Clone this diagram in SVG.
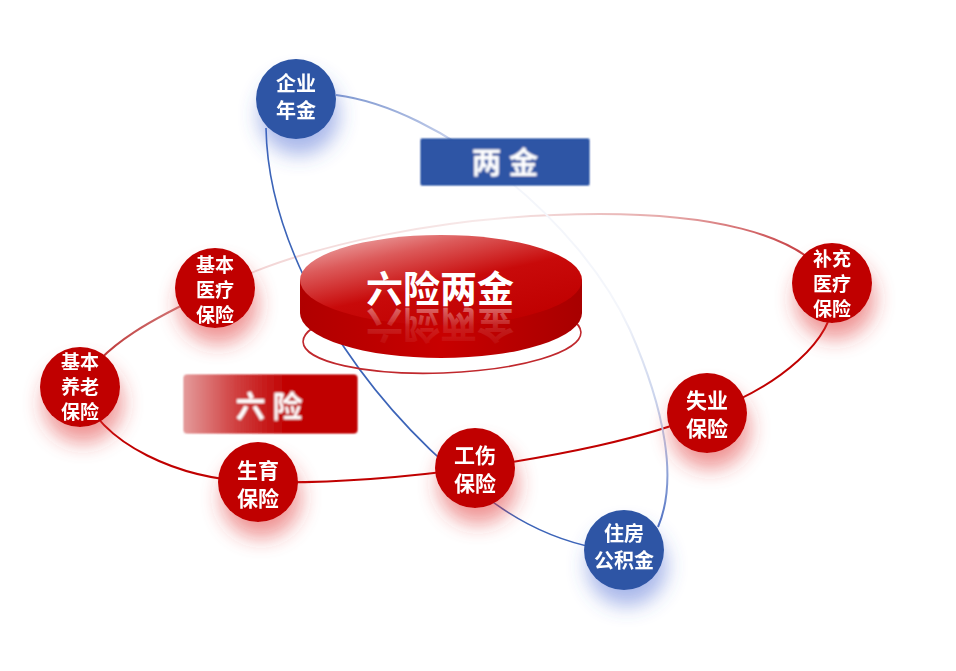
<svg xmlns="http://www.w3.org/2000/svg" width="956" height="671" viewBox="0 0 956 671">
<defs>
<style>
.nt{font-family:"Noto Sans CJK SC","Noto Sans",sans-serif;font-weight:700;fill:#fff;text-anchor:middle;}
.n3{font-size:19px;}
.n2{font-size:21px;}
.nb{font-size:20px;}
.rc{fill:#c00000;}
.bc{fill:#2e55a5;}
</style>
<filter id="sr" x="-60%" y="-60%" width="220%" height="230%">
<feGaussianBlur in="SourceAlpha" stdDeviation="10"/>
<feOffset dx="3" dy="16" result="b"/>
<feFlood flood-color="#e03030" flood-opacity="0.5"/>
<feComposite in2="b" operator="in"/>
<feMerge><feMergeNode/><feMergeNode in="SourceGraphic"/></feMerge>
</filter>
<filter id="sb" x="-60%" y="-60%" width="220%" height="230%">
<feGaussianBlur in="SourceAlpha" stdDeviation="10"/>
<feOffset dx="3" dy="16" result="b"/>
<feFlood flood-color="#4060d0" flood-opacity="0.45"/>
<feComposite in2="b" operator="in"/>
<feMerge><feMergeNode/><feMergeNode in="SourceGraphic"/></feMerge>
</filter>
<filter id="sg" x="-20%" y="-40%" width="140%" height="200%">
<feGaussianBlur in="SourceAlpha" stdDeviation="4"/>
<feOffset dx="2" dy="5" result="b"/>
<feFlood flood-color="#000" flood-opacity="0.2"/>
<feComposite in2="b" operator="in"/>
<feGaussianBlur in="SourceGraphic" stdDeviation="0.8" result="s"/>
<feMerge><feMergeNode/><feMergeNode in="s"/></feMerge>
</filter>
<linearGradient id="gTop" gradientUnits="userSpaceOnUse" x1="214" y1="0" x2="832" y2="0">
<stop offset="0" stop-color="#f2d2d2"/>
<stop offset="0.45" stop-color="#f7e9e9"/>
<stop offset="0.75" stop-color="#e4a4a4"/>
<stop offset="1" stop-color="#c0282d"/>
</linearGradient>
<linearGradient id="gLeft" gradientUnits="userSpaceOnUse" x1="214" y1="290" x2="80" y2="387">
<stop offset="0" stop-color="#d89090"/>
<stop offset="1" stop-color="#b82020"/>
</linearGradient>
<linearGradient id="gBR" gradientUnits="userSpaceOnUse" x1="0" y1="92" x2="0" y2="530">
<stop offset="0" stop-color="#7f98d0"/>
<stop offset="0.1" stop-color="#c2cdea"/>
<stop offset="0.2" stop-color="#f4f6fb"/>
<stop offset="0.5" stop-color="#f4f6fb"/>
<stop offset="0.8" stop-color="#b4c1e4"/>
<stop offset="1" stop-color="#4a6cc0"/>
</linearGradient>
<linearGradient id="gDiscTop" x1="0" y1="0" x2="0.7" y2="1">
<stop offset="0" stop-color="#f3c2c2"/>
<stop offset="0.3" stop-color="#dc5a5a"/>
<stop offset="0.6" stop-color="#c80a0a"/>
<stop offset="1" stop-color="#c00000"/>
</linearGradient>
<linearGradient id="gDiscSide" x1="0" y1="0" x2="1" y2="0">
<stop offset="0" stop-color="#b00000"/>
<stop offset="0.5" stop-color="#c80000"/>
<stop offset="1" stop-color="#a80000"/>
</linearGradient>
<linearGradient id="gSix" x1="0" y1="0" x2="1" y2="0">
<stop offset="0" stop-color="#e49a9a"/>
<stop offset="0.3" stop-color="#d04040"/>
<stop offset="0.6" stop-color="#c00000"/>
<stop offset="1" stop-color="#c00000"/>
</linearGradient>
<linearGradient id="gRefl" x1="0" y1="0" x2="0" y2="1">
<stop offset="0" stop-color="#fff" stop-opacity="0"/>
<stop offset="0.5" stop-color="#fff" stop-opacity="0.12"/>
<stop offset="1" stop-color="#fff" stop-opacity="0.5"/>
</linearGradient>
</defs>
<rect width="956" height="671" fill="#fff"/>

<g id="connectors" fill="none">
<path d="M 832,283 C 800,230 700,214 600,214 C 450,214 300,245 214,290" stroke="url(#gTop)" stroke-width="2"/>
<path d="M 214,290 C 160,315 100,345 80,387" stroke="url(#gLeft)" stroke-width="2"/>
<path d="M 80,387 C 100,445 180,480 258,482 C 330,484 400,478 475,468 C 560,455 640,440 707,413 C 770,390 845,340 832,283" stroke="#c00000" stroke-width="2"/>
<path d="M 336,95 C 440,108 580,220 630,330 C 665,410 678,480 658,527" stroke="url(#gBR)" stroke-width="2"/>
<path d="M 266,128 C 268,240 340,370 450,468 C 500,512 550,545 623,552" stroke="#3c64b8" stroke-width="1.6"/>
</g>

<g id="disc">
<ellipse cx="442" cy="337" rx="139" ry="36" fill="none" stroke="#c0282d" stroke-width="1.6" transform="rotate(-2 442 337)"/>
<path d="M 300,280 L 300,313 A 141 45 0 0 0 582,313 L 582,280 Z" fill="url(#gDiscSide)"/>
<ellipse cx="441" cy="280" rx="141" ry="45" fill="url(#gDiscTop)"/>
<text class="nt" x="440" y="303" font-size="37">六险两金</text>
<text class="nt" x="440" y="303" font-size="37" style="fill:url(#gRefl)" transform="translate(0,614) scale(1,-1)">六险两金</text>
</g>

<g id="label-liangjin" filter="url(#sg)">
<rect x="421" y="139" width="168" height="46" fill="#2e55a5"/>
<text class="nt" x="505" y="173" font-size="30">两 金</text>
</g>

<g id="label-liuxian" filter="url(#sg)">
<rect x="184" y="375" width="173" height="58" rx="3" fill="url(#gSix)"/>
<text class="nt" x="269" y="417" font-size="30">六 险</text>
</g>

<g id="n-qiyenianjin" filter="url(#sb)">
<circle class="bc" cx="296" cy="99" r="40"/>
<text class="nt nb" x="296" y="91">企业<tspan x="296" dy="27">年金</tspan></text>
</g>

<g id="n-zhufang" filter="url(#sb)">
<circle class="bc" cx="624" cy="550" r="40"/>
<text class="nt nb" x="624" y="541">住房<tspan x="624" dy="27">公积金</tspan></text>
</g>

<g id="n-jibenyiliao" filter="url(#sr)">
<circle class="rc" cx="215" cy="288" r="40"/>
<text class="nt n3" x="215" y="272">基本<tspan x="215" dy="25">医疗</tspan><tspan x="215" dy="25">保险</tspan></text>
</g>

<g id="n-jibenyanglao" filter="url(#sr)">
<circle class="rc" cx="80" cy="387" r="40"/>
<text class="nt n3" x="80" y="369">基本<tspan x="80" dy="25">养老</tspan><tspan x="80" dy="25">保险</tspan></text>
</g>

<g id="n-shengyu" filter="url(#sr)">
<circle class="rc" cx="258" cy="482" r="40"/>
<text class="nt n2" x="258" y="478">生育<tspan x="258" dy="28">保险</tspan></text>
</g>

<g id="n-gongshang" filter="url(#sr)">
<circle class="rc" cx="475" cy="468" r="40"/>
<text class="nt n2" x="475" y="463">工伤<tspan x="475" dy="28">保险</tspan></text>
</g>

<g id="n-shiye" filter="url(#sr)">
<circle class="rc" cx="707" cy="413" r="40"/>
<text class="nt n2" x="707" y="408">失业<tspan x="707" dy="28">保险</tspan></text>
</g>

<g id="n-buchongyiliao" filter="url(#sr)">
<circle class="rc" cx="832" cy="283" r="40"/>
<text class="nt n3" x="832" y="266">补充<tspan x="832" dy="25">医疗</tspan><tspan x="832" dy="25">保险</tspan></text>
</g>
</svg>
